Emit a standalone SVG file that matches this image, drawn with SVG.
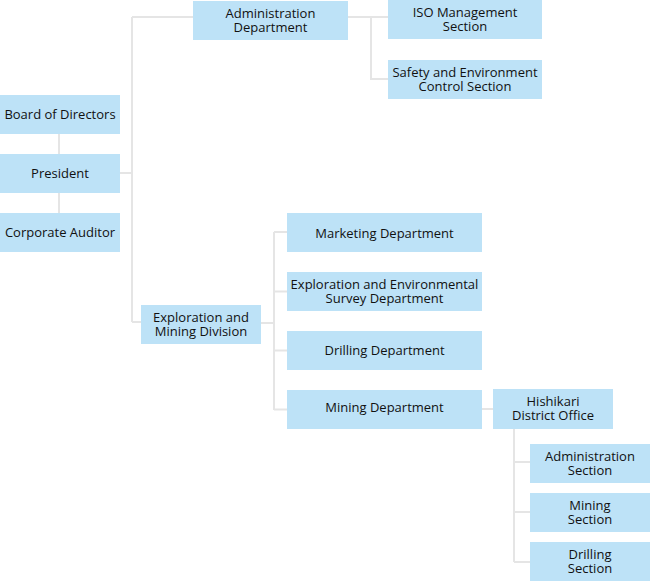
<svg xmlns="http://www.w3.org/2000/svg" width="650" height="581" viewBox="0 0 650 581">
<style>
.box{fill:#bde2f7}
.t{font-family:"Open Sans","Noto Sans","Liberation Sans",sans-serif;font-size:13px;fill:#111;text-anchor:middle}
.c{fill:none;stroke:#e5e5e5;stroke-width:2}
</style>
<rect width="650" height="581" fill="#ffffff"/>
<g id="connectors">
<path class="c" d="M59 134V213"/>
<path class="c" d="M120 173H132M132 17V322M132 17H193M132 322H141"/>
<path class="c" d="M348 17H388M371 17V79H388"/>
<path class="c" d="M261 323H274M274 232V410M274 232H287M274 291.5H287M274 350.5H287M274 409.5H287"/>
<path class="c" d="M482 409H493"/>
<path class="c" d="M514 429V562M514 462H530M514 512H530M514 562H530"/>
</g>
<g id="board"><rect class="box" x="0" y="95" width="120" height="39"/><text class="t" x="60" y="119">Board of Directors</text></g>
<g id="president"><rect class="box" x="0" y="154" width="120" height="39"/><text class="t" x="60" y="178">President</text></g>
<g id="auditor"><rect class="box" x="0" y="213" width="120" height="39"/><text class="t" x="60" y="237">Corporate Auditor</text></g>
<g id="admin-dept"><rect class="box" x="193" y="1" width="155" height="39"/><text class="t" x="270.5" y="18">Administration<tspan x="270.5" dy="14">Department</tspan></text></g>
<g id="iso"><rect class="box" x="388" y="0" width="154" height="39"/><text class="t" x="465" y="17">ISO Management<tspan x="465" dy="14">Section</tspan></text></g>
<g id="safety"><rect class="box" x="388" y="60" width="154" height="39"/><text class="t" x="465" y="77">Safety and Environment<tspan x="465" dy="14">Control Section</tspan></text></g>
<g id="division"><rect class="box" x="141" y="305" width="120" height="39"/><text class="t" x="201" y="322">Exploration and<tspan x="201" dy="14">Mining Division</tspan></text></g>
<g id="marketing"><rect class="box" x="287" y="213" width="195" height="39"/><text class="t" x="384.5" y="238">Marketing Department</text></g>
<g id="exp-env"><rect class="box" x="287" y="272" width="195" height="39"/><text class="t" x="384.5" y="289">Exploration and Environmental<tspan x="384.5" dy="14">Survey Department</tspan></text></g>
<g id="drilling-dept"><rect class="box" x="287" y="331" width="195" height="39"/><text class="t" x="384.5" y="355">Drilling Department</text></g>
<g id="mining-dept"><rect class="box" x="287" y="390" width="195" height="39"/><text class="t" x="384.5" y="412">Mining Department</text></g>
<g id="hishikari"><rect class="box" x="493" y="389" width="120" height="40"/><text class="t" x="553" y="406">Hishikari<tspan x="553" dy="14">District Office</tspan></text></g>
<g id="admin-sec"><rect class="box" x="530" y="444" width="120" height="39"/><text class="t" x="590" y="461">Administration<tspan x="590" dy="14">Section</tspan></text></g>
<g id="mining-sec"><rect class="box" x="530" y="493" width="120" height="39"/><text class="t" x="590" y="510">Mining<tspan x="590" dy="14">Section</tspan></text></g>
<g id="drilling-sec"><rect class="box" x="530" y="542" width="120" height="39"/><text class="t" x="590" y="559">Drilling<tspan x="590" dy="14">Section</tspan></text></g>
</svg>
